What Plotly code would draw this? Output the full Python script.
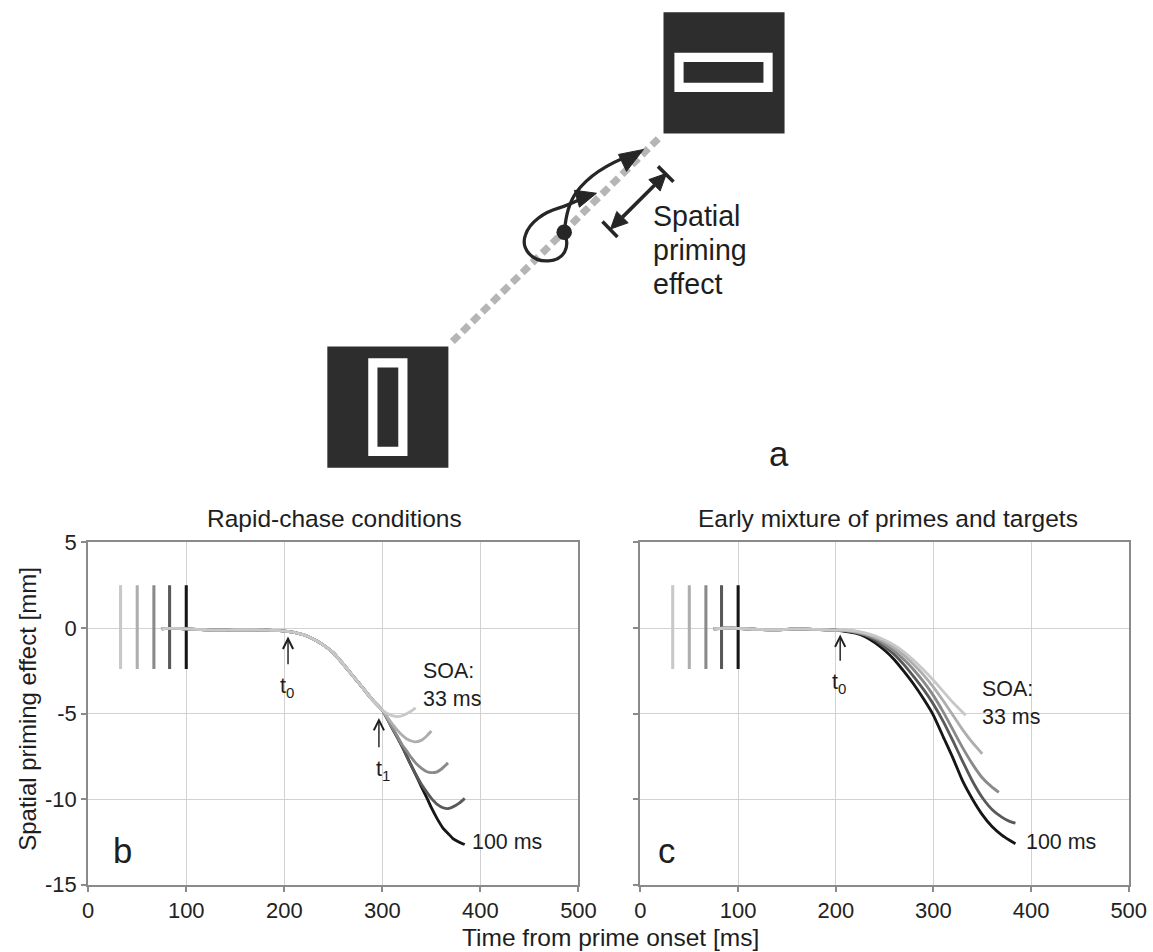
import plotly.graph_objects as go

# Layout is written in the reference image's pixel frame (1153x952).
# The page is photographed with an 8px body margin and ~0.979 overall scale,
# so the figure is sized / positioned to land on the reference frame.
K = 0.979                  # observed photo scale
OFF = 8                    # default body margin
REF_W, REF_H = 1153, 952
W = round(REF_W / K) - OFF
H = round(REF_H / K) - OFF
S = 1 / K
FONT = "Liberation Sans, Arial, sans-serif"

def fx(v):  # reference x-pixel -> paper fraction
    return (v / K - OFF) / W

def fy(v):  # reference y-pixel (top-down) -> paper fraction
    return 1 - (v / K - OFF) / H

def fs(v):  # size in reference pixels -> figure pixels
    return v * S

# ---------------- data ----------------
soa_ms = [33, 50, 67, 83, 100]
soa_colors = ["#c8c8c8", "#aeaeae", "#8a8a8a", "#595959", "#161616"]
bar_top, bar_bottom = 2.5, -2.4

# Panel b: rapid-chase (common trunk then SOA-specific tails)
rc_t_common = [75, 80, 90, 100, 110, 120, 130, 140, 150, 160, 170, 180, 190, 200,
               210, 220, 230, 240, 250, 260, 270, 280, 290, 300]
rc_y_common = [-0.05, -0.02, -0.02, -0.05, -0.08, -0.10, -0.12, -0.12, -0.10, -0.10,
               -0.10, -0.12, -0.14, -0.18, -0.25, -0.40, -0.65, -1.00, -1.45, -2.10,
               -2.80, -3.50, -4.20, -4.80]
rc_t_33 = [305, 310, 316, 322, 328, 334]
rc_y_33 = [-5.00, -5.12, -5.18, -5.08, -4.90, -4.66]
rc_t_50 = [305, 310, 315, 320, 325, 333, 340, 345, 350]
rc_y_50 = [-5.20, -5.60, -5.95, -6.25, -6.48, -6.65, -6.55, -6.32, -6.02]
rc_t_67 = [305, 310, 315, 320, 325, 330, 335, 340, 345, 350, 355, 360, 367]
rc_y_67 = [-5.30, -5.80, -6.30, -6.80, -7.20, -7.60, -7.95, -8.20, -8.38, -8.45, -8.42, -8.25, -7.88]
rc_t_83 = [305, 310, 315, 320, 325, 330, 336, 340, 346, 350, 356, 362, 367, 372, 378, 384]
rc_y_83 = [-5.30, -5.85, -6.35, -6.90, -7.50, -8.10, -8.75, -9.15, -9.65, -9.95, -10.30,
           -10.50, -10.55, -10.45, -10.25, -9.95]
rc_t_100 = [305, 310, 315, 320, 325, 330, 336, 340, 346, 350, 356, 362, 367, 372, 378, 384]
rc_y_100 = [-5.30, -5.85, -6.35, -6.90, -7.50, -8.10, -8.80, -9.30, -10.00, -10.50, -11.15,
            -11.70, -12.00, -12.30, -12.50, -12.65]

# Panel c: early mixture (flat start then SOA-specific descent)
em_t_flat = [75, 90, 100, 120, 140, 160, 180, 200]
em_y_flat = [-0.05, 0.00, -0.02, -0.08, -0.10, -0.05, -0.08, -0.12]
em_t_33 = [210, 220, 230, 240, 250, 260, 270, 280, 290, 300, 310, 320, 333]
em_y_33 = [-0.10, -0.17, -0.28, -0.45, -0.70, -1.00, -1.40, -1.90, -2.45, -3.05, -3.70, -4.35, -5.10]
em_t_50 = [210, 220, 230, 240, 250, 260, 270, 280, 290, 300, 310, 320, 330, 340, 350]
em_y_50 = [-0.13, -0.20, -0.32, -0.52, -0.80, -1.15, -1.60, -2.15, -2.75, -3.45, -4.25, -5.10,
           -5.95, -6.70, -7.35]
em_t_67 = [210, 220, 230, 240, 250, 260, 270, 280, 290, 300, 310, 320, 330, 340, 350, 360, 367]
em_y_67 = [-0.15, -0.24, -0.38, -0.60, -0.95, -1.35, -1.85, -2.45, -3.15, -3.95, -4.90, -5.95,
           -7.00, -7.95, -8.75, -9.30, -9.60]
em_t_83 = [210, 220, 230, 240, 250, 260, 270, 280, 290, 300, 310, 320, 330, 340, 350, 360, 370, 378, 384]
em_y_83 = [-0.18, -0.27, -0.42, -0.70, -1.10, -1.55, -2.15, -2.85, -3.60, -4.45, -5.45, -6.60,
           -7.80, -8.95, -9.90, -10.60, -11.05, -11.30, -11.40]
em_t_100 = [210, 220, 230, 240, 250, 260, 270, 280, 290, 300, 310, 320, 330, 340, 350, 360, 370, 378, 384]
em_y_100 = [-0.20, -0.30, -0.50, -0.85, -1.30, -1.85, -2.55, -3.30, -4.15, -5.10, -6.35, -7.60,
            -8.95, -10.00, -10.90, -11.60, -12.10, -12.40, -12.60]

x_ticks = [0, 100, 200, 300, 400, 500]
y_ticks = [5, 0, -5, -10, -15]
y_ticktext = ["5", "0", "-5", "-10", "-15"]

rc_tails = {33: (rc_t_33, rc_y_33), 50: (rc_t_50, rc_y_50), 67: (rc_t_67, rc_y_67),
            83: (rc_t_83, rc_y_83), 100: (rc_t_100, rc_y_100)}
em_tails = {33: (em_t_33, em_y_33), 50: (em_t_50, em_y_50), 67: (em_t_67, em_y_67),
            83: (em_t_83, em_y_83), 100: (em_t_100, em_y_100)}

fig = go.Figure()

for xa, ya, tails, t0, y0 in [("x", "y", rc_tails, rc_t_common, rc_y_common),
                              ("x2", "y2", em_tails, em_t_flat, em_y_flat)]:
    for s, c in zip(soa_ms, soa_colors):
        fig.add_trace(go.Scatter(x=[s, s], y=[bar_bottom, bar_top], mode="lines",
                                 line=dict(color=c, width=fs(3)), xaxis=xa, yaxis=ya,
                                 showlegend=False, hoverinfo="skip"))
    for s, c in reversed(list(zip(soa_ms, soa_colors))):
        tt, yy = tails[s]
        fig.add_trace(go.Scatter(x=t0 + tt, y=y0 + yy, mode="lines",
                                 line=dict(color=c, width=fs(2.8), shape="spline", smoothing=0.6),
                                 xaxis=xa, yaxis=ya, showlegend=False, hoverinfo="skip"))

# empty trace on a reference-pixel overlay axis used for the schematic and labels
fig.add_trace(go.Scatter(x=[], y=[], xaxis="x3", yaxis="y3", showlegend=False, hoverinfo="skip"))

axis_common = dict(showgrid=True, gridcolor="#d2d2d2", gridwidth=fs(1.3), zeroline=False,
                   showline=True, mirror=True, linecolor="#8a8a8a", linewidth=fs(2),
                   ticks="outside", ticklen=fs(5), tickcolor="#8a8a8a", tickwidth=fs(1.5),
                   tickfont=dict(family=FONT, size=fs(21.5), color="#222"))

fig.update_layout(
    width=W, height=H, margin=dict(l=0, r=0, t=0, b=0),
    paper_bgcolor="white", plot_bgcolor="rgba(0,0,0,0)",
    xaxis=dict(domain=[fx(90), fx(580)], range=[0, 500], tickvals=x_ticks, anchor="y", **axis_common),
    yaxis=dict(domain=[fy(885), fy(541)], range=[-15, 5], tickvals=y_ticks, ticktext=y_ticktext,
               anchor="x", **axis_common),
    xaxis2=dict(domain=[fx(642), fx(1130)], range=[0, 500], tickvals=x_ticks, anchor="y2", **axis_common),
    yaxis2=dict(domain=[fy(885), fy(541)], range=[-15, 5], tickvals=y_ticks, anchor="x2",
                showticklabels=False, **axis_common),
    xaxis3=dict(domain=[0, 1], range=[OFF * K, (W + OFF) * K], visible=False, anchor="y3",
                fixedrange=True),
    yaxis3=dict(domain=[0, 1], range=[(H + OFF) * K, OFF * K], visible=False, anchor="x3",
                fixedrange=True),
)

ann = []
def txt(x, y, text, size=21, xref="x3", yref="y3", xanchor="center", yanchor="middle",
        align="center", angle=0):
    ann.append(dict(x=x, y=y, xref=xref, yref=yref, text=text, showarrow=False,
                    xanchor=xanchor, yanchor=yanchor, align=align, textangle=angle,
                    font=dict(family=FONT, size=fs(size), color="#1e1e1e")))

def arrow(xref, yref, x, yh, yt):
    ann.append(dict(x=x, y=yh, ax=x, ay=yt, xref=xref, yref=yref, axref=xref, ayref=yref,
                    text="", showarrow=True, arrowhead=5, arrowsize=1.4, arrowwidth=fs(1.4),
                    arrowcolor="#1e1e1e", standoff=0))

# titles and axis titles
txt(336, 517, "Rapid-chase conditions", size=24)
txt(889, 517, "Early mixture of primes and targets", size=24)
txt(612, 938, "Time from prime onset [ms]", size=24)
txt(29, 708, "Spatial priming effect [mm]", size=23.5, angle=-90)

# panel b annotations
arrow("x", "y", 203.8, -0.5, -2.2)
txt(203, -3.5, "t<sub>0</sub>", xref="x", yref="y")
arrow("x", "y", 296.5, -5.25, -7.05)
txt(301, -8.3, "t<sub>1</sub>", xref="x", yref="y")
txt(339, -3.3, "SOA:<br>33 ms", xref="x", yref="y", xanchor="left", align="left")
txt(389, -12.5, "100 ms", xref="x", yref="y", xanchor="left")
txt(35, -13.0, "b", size=34, xref="x", yref="y")

# panel c annotations
arrow("x2", "y2", 204.5, -0.37, -2.0)
txt(203, -3.25, "t<sub>0</sub>", xref="x2", yref="y2")
txt(348, -4.4, "SOA:<br>33 ms", xref="x2", yref="y2", xanchor="left", align="left")
txt(393, -12.5, "100 ms", xref="x2", yref="y2", xanchor="left")
txt(27, -13.05, "c", size=34, xref="x2", yref="y2")

# schematic (panel a) text
txt(653, 213, "Spatial", size=28, xanchor="left")
txt(653, 247, "priming", size=28, xanchor="left")
txt(653, 281, "effect", size=28, xanchor="left")
txt(780, 452, "a", size=34)

fig.update_layout(annotations=ann)

# schematic shapes in reference-pixel space
shapes = []
def shp(**k):
    k.setdefault("xref", "x3"); k.setdefault("yref", "y3"); k.setdefault("layer", "above")
    shapes.append(k)

shp(type="line", x0=454, y0=339, x1=663, y1=132,
    line=dict(color="#b5b5b5", width=fs(7), dash="9px,5px"))
dark = "#2d2d2d"
shp(type="rect", x0=329, y0=344, x1=450, y1=466, fillcolor=dark, line=dict(width=0))
shp(type="rect", x0=665, y0=8, x1=786, y1=130, fillcolor=dark, line=dict(width=0))
shp(type="rect", x0=374.5, y0=360.5, x1=404.5, y1=449.5, line=dict(color="white", width=fs(9)))
shp(type="rect", x0=680.5, y0=53.5, x1=769.5, y1=83.5, line=dict(color="white", width=fs(9)))

ink = "#262626"
shp(type="path", path="M 566,229 C 572,244 566,257 550,258 C 534,259 522,246 527,232 "
                      "C 531,219 546,209 560,205 C 570,202 578,198 586,194",
    line=dict(color=ink, width=fs(3.2)))
shp(type="path", path="M 566,229 C 567,215 570,200 578,189 C 590,172 610,160 634,151",
    line=dict(color=ink, width=fs(3.2)))
shp(type="path", path="M 598,190 L 576,187 L 581,204 Z", fillcolor=ink, line=dict(color=ink, width=1))
shp(type="path", path="M 645,146 L 620,151 L 628,168 Z", fillcolor=ink, line=dict(color=ink, width=1))
shp(type="circle", x0=558, y0=221.5, x1=573.5, y1=237, fillcolor=ink, line=dict(color=ink, width=0))

# double-headed arrow with end bars
shp(type="line", x0=624, y0=214, x1=656, y1=182, line=dict(color=ink, width=fs(3.5)))
shp(type="path", path="M 668,170 L 661.7,187.7 L 650.3,176.3 Z", fillcolor=ink, line=dict(color=ink, width=1))
shp(type="path", path="M 612,226 L 629.7,219.7 L 618.3,208.3 Z", fillcolor=ink, line=dict(color=ink, width=1))
shp(type="line", x0=604, y0=218.5, x1=619, y1=234, line=dict(color=ink, width=fs(3.5)))
shp(type="line", x0=659.5, y0=163, x1=675, y1=178.5, line=dict(color=ink, width=fs(3.5)))

fig.update_layout(shapes=shapes)
fig.write_html("out.html")
